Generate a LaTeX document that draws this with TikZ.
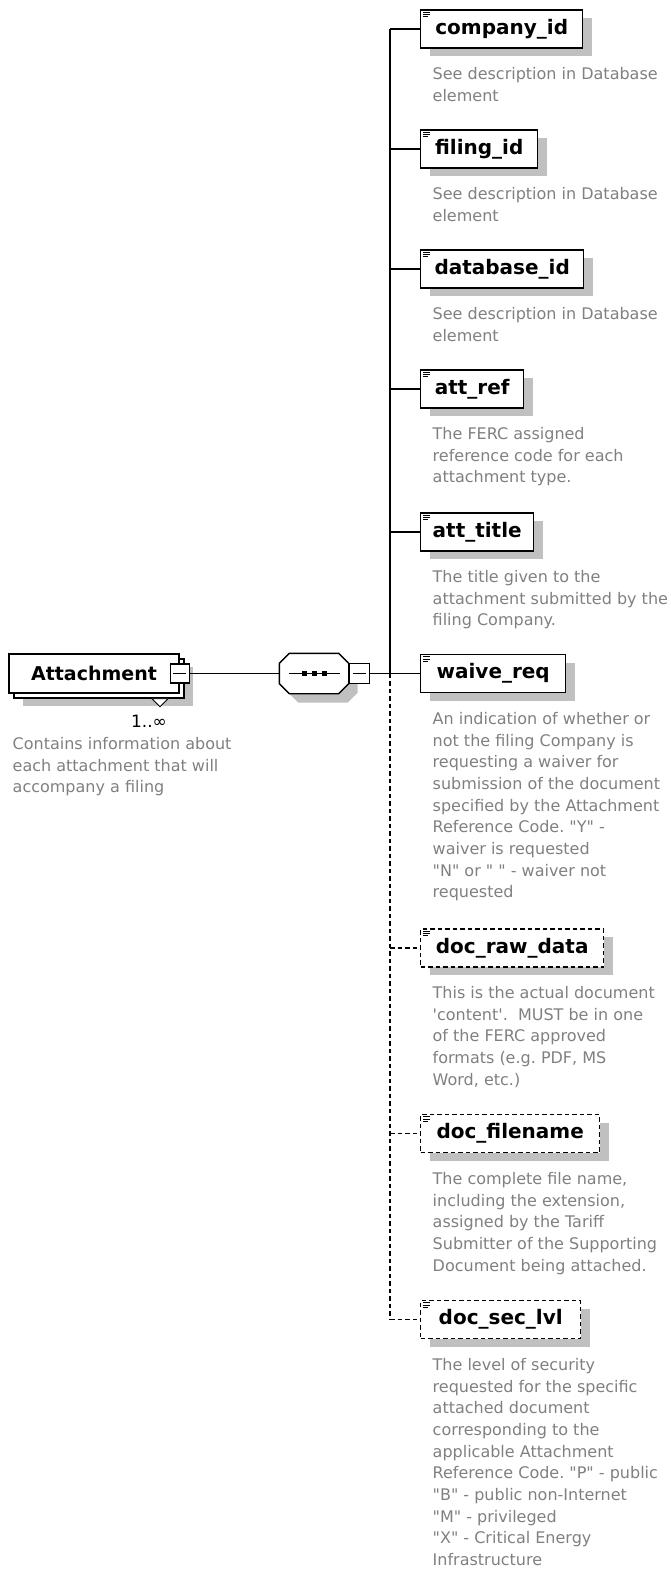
\documentclass[tikz,border=0pt]{standalone}
\usepackage{fontspec}
\setmainfont{DejaVu Sans}
\newfontfamily\descfont{DejaVu Sans}
\usetikzlibrary{calc}
\definecolor{descgray}{RGB}{128,128,128}
\definecolor{shadowgray}{RGB}{192,192,192}
\frenchspacing
\begin{document}
\begin{tikzpicture}[x=1pt,y=-1pt,
  line width=1.4pt,
  shadowed/.style={preaction={draw=none,fill=shadowgray,transform canvas={xshift=9pt,yshift=-8pt}}},
  elembox/.style={draw=black,fill=white,shadowed,minimum height=38pt,inner sep=0pt,anchor=west,
    font=\fontsize{20}{24}\selectfont\bfseries},
  optbox/.style={elembox,dash pattern=on 4.5pt off 3pt},
  desc/.style={anchor=north west,inner sep=0pt,align=left,text=descgray,
    font=\descfont\fontsize{16}{21.7}\selectfont},
  conn/.style={draw=black,line width=1.4pt},
  optconn/.style={conn,dash pattern=on 4.5pt off 3pt},
  minusbox/.style={draw=black,fill=white,minimum size=19pt,inner sep=0pt},
  iconline/.style={line width=0.9pt},
]
\useasboundingbox (0,0) rectangle (670,1570);

% ---------- root element ----------
\node[draw=black,fill=white,shadowed,minimum width=170pt,minimum height=39pt,inner sep=0pt] (attback) at (99,678.5) {};
\node[draw=black,fill=white,minimum width=170pt,minimum height=39pt,inner sep=0pt,
  font=\fontsize{19}{23}\selectfont\bfseries] (att) at (94,673.5) {Attachment\hspace{8pt}};
\node[minusbox] (attminus) at (att.east) {};
\draw[line width=1.1pt] ($(attminus.west)+(3.5,0)$) -- ($(attminus.east)+(-3.5,0)$);
\draw[fill=white,line width=0.9pt] ($(attback.south)+(53,0)$) -- ($(attback.south)+(69,0)$) -- ($(attback.south)+(61,8)$) -- cycle;
\node[font=\descfont\fontsize{17}{20}\selectfont,inner sep=0pt] (mult) at (149,721) {1..∞};
\node[desc] (attd) at (12,736.6) {Contains information about\\each attachment that will\\accompany a filing};

% ---------- sequence compositor ----------
\node[minimum width=68pt,minimum height=39pt,inner sep=0pt] (seq) at (314,673.5) {};
\fill[shadowgray,transform canvas={xshift=9pt,yshift=-9pt}]
  ($(seq.north west)+(0,10)$) -- ($(seq.north west)+(10,0)$) -- ($(seq.north east)+(-10,0)$) -- ($(seq.north east)+(0,10)$)
  -- ($(seq.south east)+(0,-10)$) -- ($(seq.south east)+(-10,0)$) -- ($(seq.south west)+(10,0)$) -- ($(seq.south west)+(0,-10)$) -- cycle;
\draw[fill=white]
  ($(seq.north west)+(0,10)$) -- ($(seq.north west)+(10,0)$) -- ($(seq.north east)+(-10,0)$) -- ($(seq.north east)+(0,10)$)
  -- ($(seq.south east)+(0,-10)$) -- ($(seq.south east)+(-10,0)$) -- ($(seq.south west)+(10,0)$) -- ($(seq.south west)+(0,-10)$) -- cycle;
\draw ($(seq.west)+(10,0)$) -- ($(seq.east)+(-9,0)$);
\foreach \dx in {-10,0,10} \fill ($(seq.center)+(\dx-2.5,-2.5)$) rectangle ++(5,5);
\node[minusbox,minimum size=20pt,anchor=west] (seqminus) at (seq.east) {};
\draw[line width=1.1pt] ($(seqminus.west)+(4,0)$) -- ($(seqminus.east)+(-4,0)$);

% ---------- child elements ----------
\node[elembox,minimum width=162pt] (company)  at (420,29)     {company\_id};
\node[elembox,minimum width=117pt] (filing)   at (420,149)    {filing\_id};
\node[elembox,minimum width=163pt] (database) at (420,269)    {database\_id};
\node[elembox,minimum width=103pt] (attref)   at (420,389)    {att\_ref};
\node[elembox,minimum width=113pt] (atttitle) at (420,532)    {att\_title};
\node[elembox,minimum width=145pt] (waive)    at (420,673.5)  {waive\_req};
\node[optbox,minimum width=183pt]  (docraw)   at (420,948)    {doc\_raw\_data};
\node[optbox,minimum width=179pt]  (docfile)  at (420,1133.5) {doc\_filename};
\node[optbox,minimum width=160pt]  (docsec)   at (420,1319.5) {doc\_sec\_lvl};

\foreach \n in {company,filing,database,attref,atttitle,waive,docraw,docfile,docsec}{
  \draw[iconline] ($(\n.north west)+(3,3)$) -- ++(7,0);
  \draw[iconline] ($(\n.north west)+(3,5.2)$) -- ++(7,0);
  \draw[iconline] ($(\n.north west)+(3,7.4)$) -- ++(5,0);
}

% ---------- connectors ----------
\coordinate (spine) at (390,673.5);
\draw[conn] (attminus.east) -- (seq.west);
\draw[conn] (seqminus.east) -- (spine);
\draw[conn] (company.west -| spine) -- (spine);
\draw[optconn] (spine) -- (docsec.west -| spine);
\foreach \n in {company,filing,database,attref,atttitle,waive} \draw[conn] (\n.west -| spine) -- (\n.west);
\foreach \n in {docraw,docfile,docsec} \draw[optconn] (\n.west -| spine) -- (\n.west);

% ---------- descriptions ----------
\node[desc] (companyd)  at ($(company.west)+(12,37.6)$)  {See description in Database\\element};
\node[desc] (filingd)   at ($(filing.west)+(12,37.6)$)   {See description in Database\\element};
\node[desc] (databased) at ($(database.west)+(12,37.6)$) {See description in Database\\element};
\node[desc] (attrefd)   at ($(attref.west)+(12,37.6)$)   {The FERC assigned\\reference code for each\\attachment type.};
\node[desc] (atttitled) at ($(atttitle.west)+(12,37.6)$) {The title given to the\\attachment submitted by the\\filing Company.};
\node[desc] (waived)    at ($(waive.west)+(12,38)$)      {An indication of whether or\\not the filing Company is\\requesting a waiver for\\submission of the document\\specified by the Attachment\\Reference Code. "Y" -\\waiver is requested\\"N" or "\ " - waiver not\\requested};
\node[desc] (docrawd)   at ($(docraw.west)+(12,37.6)$)   {This is the actual document\\'content'.\ \ MUST be in one\\of the FERC approved\\formats (e.g. PDF, MS\\Word, etc.)};
\node[desc] (docfiled)  at ($(docfile.west)+(12,38)$)    {The complete file name,\\including the extension,\\assigned by the Tariff\\Submitter of the Supporting\\Document being attached.};
\node[desc] (docsecd)   at ($(docsec.west)+(12,38)$)     {The level of security\\requested for the specific\\attached document\\corresponding to the\\applicable Attachment\\Reference Code. "P" - public\\"B" - public non-Internet\\"M" - privileged\\"X" - Critical Energy\\Infrastructure};
\end{tikzpicture}
\end{document}
